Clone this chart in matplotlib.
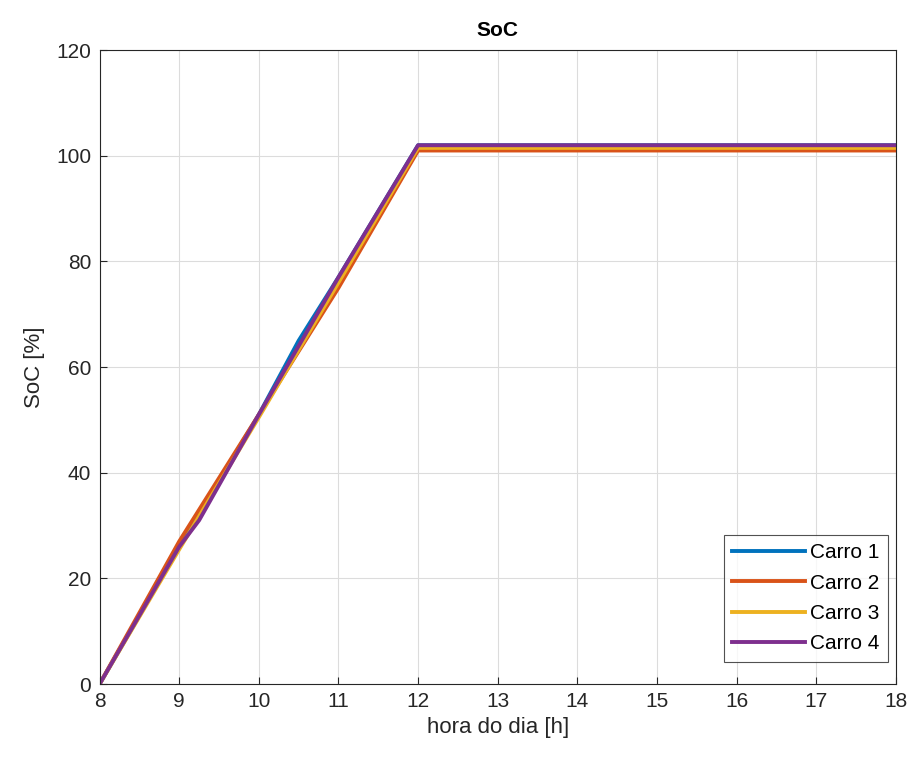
import numpy as np
import matplotlib
matplotlib.use("Agg")
import matplotlib.pyplot as plt

# SoC de cada carro ao longo do dia
hora1 = [8, 9, 10, 10.5, 11, 12, 18]
soc1 = [0, 26, 51, 65, 77, 102, 102]
hora2 = [8, 9, 9.5, 10, 11, 12, 18]
soc2 = [0, 27, 39, 51, 75, 101, 101]
hora3 = [8, 9, 10, 11, 12, 18]
soc3 = [0, 25.5, 50.5, 76, 101.5, 101.5]
hora4 = [8, 9, 9.25, 10, 11, 12, 18]
soc4 = [0, 26, 31, 51, 77, 102, 102]
nomes = ["Carro 1", "Carro 2", "Carro 3", "Carro 4"]

cores = [(0, 0.447, 0.741), (0.85, 0.325, 0.098), (0.929, 0.694, 0.125), (0.494, 0.184, 0.556)]

plt.rcParams['font.family'] = ['Liberation Sans', 'DejaVu Sans']
fig = plt.figure(figsize=(9.14, 7.6), dpi=100)
ax = fig.add_axes([0.109, 0.1, 0.871, 0.834])

for h, s, c, n in zip([hora1, hora2, hora3, hora4], [soc1, soc2, soc3, soc4], cores, nomes):
    ax.plot(h, s, color=c, linewidth=2.8, label=n)

ax.set_xlim(8, 18)
ax.set_ylim(0, 120)
ax.set_xticks(np.arange(8, 19, 1))
ax.set_yticks(np.arange(0, 121, 20))
ax.grid(True, color="#dcdcdc", linewidth=0.8)
ax.set_axisbelow(True)
ax.tick_params(direction="in", labelsize=15, colors="#262626", length=5, pad=6)
for sp in ax.spines.values():
    sp.set_color("#262626")
    sp.set_linewidth(0.8)
ax.set_xlabel("hora do dia [h]", fontsize=16, color="#262626", labelpad=4)
ax.set_ylabel("SoC [%]", fontsize=16, color="#262626", labelpad=8)
ax.set_title("SoC", fontsize=15, fontweight="bold", pad=10)
leg = ax.legend(loc="lower right", bbox_to_anchor=(0.99, 0.035), borderaxespad=0,
                fontsize=15, fancybox=False, edgecolor="#262626",
                handlelength=3.5, borderpad=0.4, labelspacing=0.55, handletextpad=0.25)
leg.get_frame().set_linewidth(0.8)

fig.savefig("out.png", dpi=100)
